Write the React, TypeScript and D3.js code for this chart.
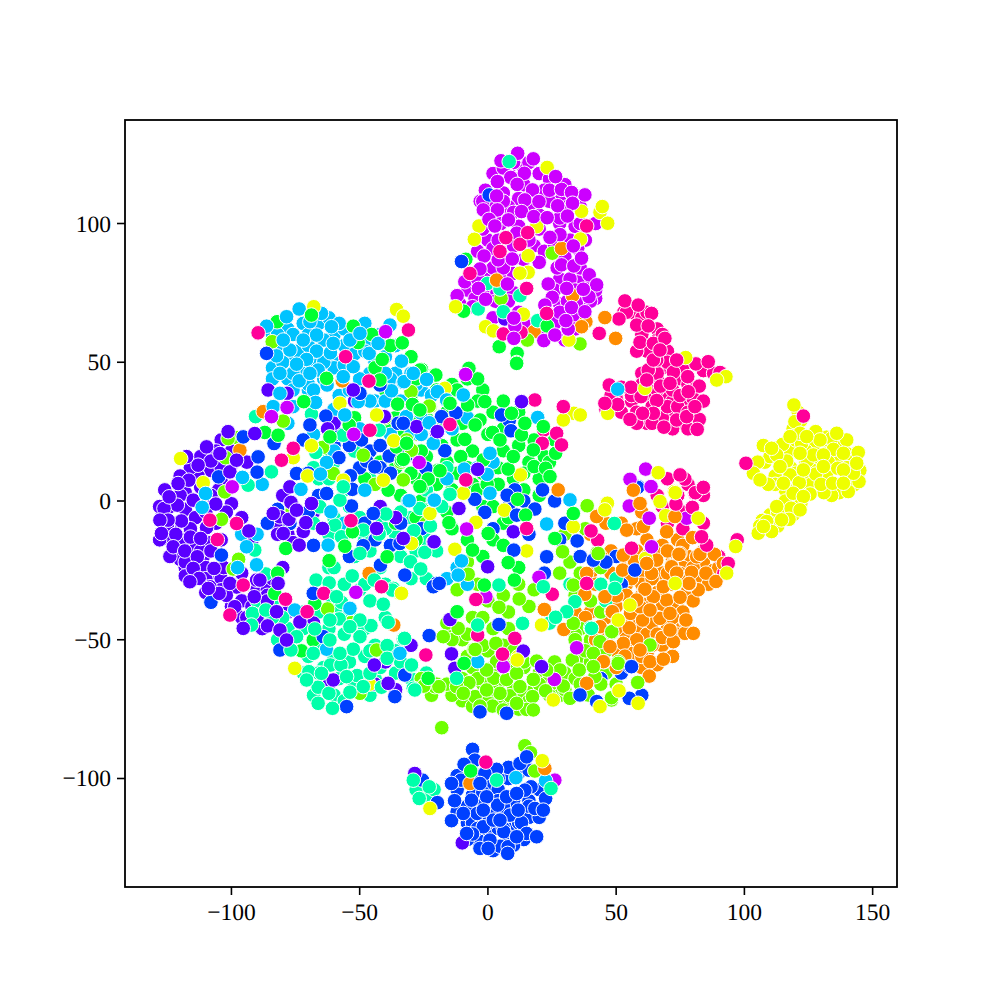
import React from "react";
import * as d3 from "d3";

type P = [number, number];

const xTicks = [-100, -50, 0, 50, 100, 150];
const yTicks = [-100, -50, 0, 50, 100];
const xDomain: P = [-141.5, 159.5];
const yDomain: P = [-139.1, 137.3];

const colors = {
  yellow: "#eeff00", orange: "#ff8c00", lime: "#6eff00", green: "#00ff33", teal: "#00ffaa",
  cyan: "#00c3ff", blue: "#0040ff", purple: "#5a00ff", magenta: "#cc00ff", pink: "#ff0099",
};

// Back layer: points largely hidden under the visible ones
const magentaBack: P[] = [[2,118],[8,119],[14,120],[20,118],[24,116],[-1,112],[6,111],[12,109],[22,112],[28,108],[-3,108],[1,106],[8,106],[20,103],[24,108],[31,106],[36,106],[5,100],[12,99],[20,98],[28,100],[34,99],[0,94],[10,92],[18,92],[22,90],[30,88],[38,94],[14,87],[20,86],[35,91],[-1,83],[5,81],[10,82],[36,82],[40,79],[0,76],[-8,76],[10,75],[35,79],[28,80],[-11,71],[-5,73],[3,72],[28,71],[36,71],[42,73],[14,62],[18,64],[26,64],[34,66],[-9,79],[31,72],[27,84],[-2,98],[-4,90],[2,91]];
const pinkBack: P[] = [[56,68],[60,66],[66,62],[53,68],[60,60],[66,58],[70,54],[62,54],[68,48],[74,44],[78,42],[70,38],[62,38],[56,36],[50,37],[52,32],[58,32],[64,34],[70,32],[76,34],[80,37],[74,28],[68,30],[62,28],[66,44],[60,46],[84,47],[88,46],[72,36],[78,26],[48,38],[46,33]];
const cyanBack: P[] = [[-84,60],[-78,62],[-72,64],[-66,64],[-60,60],[-76,50],[-82,56],[-74,54],[-70,56],[-64,58],[-60,50],[-68,49],[-78,44],[-72,48],[-64,44],[-56,56],[-52,53],[-46,58],[-42,60],[-40,52],[-36,46],[-30,46],[-26,40],[-46,46],[-50,44],[-58,38],[-44,36],[-38,44],[-32,36],[-26,30],[-76,34],[-70,40],[-60,33],[-84,48],[-22,38],[-56,62],[-48,64],[-36,56]];
const greenBack: P[] = [[-26,44],[-20,40],[-14,42],[-8,44],[-2,40],[-30,38],[-24,30],[-16,32],[-10,28],[-4,36],[2,32],[6,36],[12,32],[-28,24],[-20,26],[-12,22],[-6,18],[0,24],[6,26],[12,20],[18,22],[-32,18],[-24,16],[-16,14],[-8,12],[-2,10],[4,12],[10,8],[16,14],[22,16],[-36,12],[-28,8],[-20,6],[-14,4],[-6,6],[4,6],[14,4],[20,8],[26,22],[-34,2],[-26,0],[-2,-2],[6,-8],[-40,26],[-46,36],[-36,30],[-42,14],[-30,28],[-40,40],[-52,30],[-60,26],[-48,8],[-62,16],[-28,-6],[-14,-10]];
const tealBack: P[] = [[-60,-6],[-56,-12],[-48,-14],[-42,-6],[-36,-12],[-30,-6],[-24,-14],[-34,-20],[-28,-18],[-62,-24],[-56,-30],[-50,-32],[-46,-36],[-40,-42],[-62,-34],[-58,-38],[-66,-40],[-54,-40],[-48,-46],[-56,-48],[-62,-46],[-66,-52],[-60,-56],[-54,-58],[-48,-56],[-70,-56],[-72,-62],[-64,-60],[-58,-64],[-52,-66],[-44,-64],[-66,-62],[-60,-70],[-68,-70],[-56,-72],[-46,-70],[-42,-60],[-36,-62],[-36,-54],[-90,-36],[-84,-36],[-88,-44],[-78,-46],[-82,-50],[-30,-64],[-56,4],[-66,8],[-60,14],[-52,18],[-46,8]];
const purpleBack: P[] = [[-108,11],[-113,9],[-118,3],[-124,-2],[-122,-8],[-126,-9],[-127,-5],[-118,-3],[-114,-6],[-112,5],[-104,7],[-100,13],[-116,-10],[-118,-14],[-124,-14],[-120,-21],[-114,-17],[-108,-15],[-114,-26],[-108,-26],[-118,-24],[-104,-28],[-110,-33],[-104,-32],[-98,-31],[-96,-36],[-90,-32],[-86,-32],[-92,-38],[-100,-38],[-76,-2],[-82,-9],[-78,-12],[-72,-11],[-76,-15],[-68,-4],[-84,-28],[-80,-24],[-104,22],[-100,18],[-94,14],[-96,-42],[-88,-46],[-110,16],[-104,12]];
const limeBack: P[] = [[-10,-50],[-4,-56],[0,-54],[6,-56],[12,-56],[-12,-60],[-6,-60],[2,-60],[8,-60],[14,-60],[20,-62],[-10,-72],[-8,-66],[-2,-66],[4,-66],[10,-68],[14,-70],[18,-68],[24,-64],[-6,-74],[0,-72],[6,-72],[12,-75],[26,-66],[30,-62],[34,-64],[36,-56],[28,-70],[40,-58],[44,-54],[-14,-46],[-20,-66],[-24,-62]];
const orangeBack: P[] = [[62,-14],[68,-16],[74,-14],[58,-18],[66,-19],[72,-21],[78,-20],[84,-22],[60,-26],[68,-26],[76,-24],[82,-28],[54,-30],[60,-30],[66,-33],[72,-30],[78,-32],[50,-38],[56,-38],[62,-36],[68,-38],[74,-38],[80,-36],[46,-42],[52,-44],[58,-46],[64,-46],[70,-46],[76,-44],[56,-50],[62,-48],[68,-52],[74,-48],[50,-54],[56,-55],[62,-55],[66,-59],[44,-54],[40,-40],[60,-60],[88,-25],[54,-24],[48,-26],[58,-42],[66,-42]];
const blueBack: P[] = [[-6,-98],[0,-102],[4,-104],[8,-100],[12,-98],[16,-97],[-12,-104],[-6,-106],[-2,-108],[4,-108],[10,-108],[16,-108],[20,-104],[-8,-116],[-2,-114],[2,-112],[6,-110],[12,-112],[16,-114],[-12,-112],[-6,-116],[0,-120],[4,-118],[10,-118],[14,-122],[-4,-122],[2,-126],[8,-121],[-8,-122]];
const yellowBack: P[] = [[108,14],[112,9],[112,19],[118,18],[116,4],[120,0],[124,14],[127,20],[124,4],[128,13],[132,9],[133,19],[136,15],[140,17],[141,8],[143,6],[137,3],[134,2],[132,23],[110,-5],[113,-9],[117,-2],[107,-7],[119,26],[122,29],[145,11],[118,12],[126,9]];

// Middle layer: more of the crowd, partly covered
const magentaMid: P[] = [[-2,108],[6,120],[10,122],[16,122],[14,114],[24,112],[30,114],[6,108],[10,104],[16,106],[28,102],[36,100],[42,100],[4,94],[16,94],[26,92],[32,94],[-4,80],[2,84],[6,84],[32,80],[36,84],[34,76],[42,76],[26,76],[28,68],[34,62],[40,72],[-2,76],[-6,70],[8,72],[12,68],[14,64],[22,62],[-12,74],[30,58],[2,66]];
const pinkMid: P[] = [[54,68],[62,68],[68,60],[58,54],[66,46],[70,50],[76,48],[60,42],[56,38],[52,41],[70,34],[74,34],[58,28],[64,28],[72,26],[78,32],[66,40],[72,40],[84,36],[74,2],[78,6],[84,2],[76,-4],[70,-8],[76,-10],[84,-8],[90,-20],[92,-26],[70,8],[66,2],[68,-2]];
const cyanMid: P[] = [[-82,60],[-76,60],[-70,60],[-62,66],[-58,64],[-80,50],[-76,46],[-70,42],[-60,48],[-64,50],[-48,54],[-44,50],[-40,46],[-54,40],[-46,36],[-40,36],[-34,36],[-28,42],[-78,28],[-68,24],[-60,18],[-50,26],[-38,24],[-30,24],[-26,24],[-14,26],[-8,30],[-16,8],[-4,12],[2,14],[-12,-24],[-8,-30],[-16,-28],[-56,-8],[-90,-12],[-96,-12],[-88,6],[-84,44],[-76,40],[-68,40]];
const greenMid: P[] = [[-34,24],[-26,18],[-18,20],[-12,10],[-4,4],[2,-2],[8,-6],[14,10],[20,2],[24,14],[-30,10],[-22,-2],[-16,-4],[-36,-8],[-28,-14],[-8,-14],[-2,-20],[2,-14],[6,-16],[12,-24],[-12,40],[-4,44],[-38,56],[-30,52],[-28,44],[-44,48]];
const tealMid: P[] = [[-68,12],[-62,8],[-54,-2],[-50,-6],[-40,-10],[-34,-4],[-46,-18],[-52,-20],[-42,-24],[-30,-28],[-24,-28],[-20,-18],[-18,-2],[-24,4],[-16,12],[-40,-30],[-48,-30],[-62,-12],[-68,-8],[-60,-24],[-66,-34],[-72,-40],[-80,-42],[-84,-42],[-72,-46],[-44,-52],[-46,-54],[-34,-58],[-24,-62],[44,-30],[50,-28],[46,-36],[32,-30],[24,-44],[-26,-102],[-24,-106],[-28,-104],[-21,-104]];
const purpleMid: P[] = [[-110,-4],[-105,4],[-116,-13],[-125,-9],[-120,2],[-111,-20],[-103,-24],[-118,-22],[-110,-24],[-112,-18],[-106,-8],[-100,-1],[-92,-14],[-96,-6],[-96,-26],[-86,-34],[-70,-4],[-80,2],[-82,-12],[-86,-36],[-78,-40],[-68,-44],[-62,-66],[-44,-66],[-36,-68],[-30,-52],[-42,-2],[-36,-6],[-40,-58],[-60,28],[-52,36],[-116,12],[-112,16],[-106,18],[-120,9],[-126,4],[-128,-2],[-128,-14],[-124,-20],[-118,-27],[-110,-28],[-102,-34],[-94,-42],[-90,-42],[-108,2],[-102,-4],[-108,-18],[-104,-14]];
const limeMid: P[] = [[-40,30],[-34,14],[-28,24],[-44,6],[-24,-8],[32,-22],[36,-26],[28,-26],[44,-24],[30,-12],[38,-10],[34,-34],[40,-36],[44,-40],[36,-46],[40,-50],[34,-48],[46,-62],[50,-66],[-8,-22],[-12,-32],[-4,-30],[0,-36],[6,-34],[12,-30],[-6,-42],[-2,-42],[2,-46],[8,-46],[-8,-48],[-16,-44],[8,-40],[16,-38],[18,-32],[-8,-56],[-14,-50],[-2,-52],[6,-52],[10,-54],[14,-58],[20,-66],[24,-70],[30,-68],[36,-66],[44,-66],[-4,-64],[2,-68],[8,-74],[16,-72],[-14,-70],[-10,-64],[-16,-66],[26,-58],[38,-54],[34,-50],[46,-54],[-26,-64],[-22,-70]];
const orangeMid: P[] = [[46,-8],[40,-12],[48,-18],[44,-20],[40,-26],[36,-30],[34,-40],[38,-42],[42,-30],[52,-8],[60,-4],[58,-10],[62,-20],[56,-28],[64,-28],[70,-26],[70,-18],[76,-16],[80,-24],[84,-18],[90,-24],[86,-30],[82,-32],[76,-40],[72,-42],[64,-44],[54,-48],[50,-46],[58,-50],[60,-34],[54,-34],[66,-48],[72,-56],[64,-52],[60,-56],[50,-60],[42,-50],[46,-48]];
const blueMid: P[] = [[-60,20],[-54,20],[-46,18],[-42,20],[-42,12],[-50,12],[-38,10],[-32,16],[-48,-8],[-44,-14],[-38,-16],[-30,-14],[-26,-10],[-34,-8],[-54,-20],[-58,24],[2,-10],[8,-2],[14,0],[16,-12],[26,0],[30,-8],[36,-20],[28,-14],[22,-26],[50,-20],[46,-22],[52,-30],[-66,2],[-70,10],[-70,-4],[-68,-16],[44,-64],[52,-62],[-82,-3],[-86,-8],[60,-70],[0,-116],[-2,-105],[-12,-99],[-8,-100],[6,-118],[-4,-118],[12,-116],[16,-110],[10,-124],[-8,-110],[-13,-108],[4,-100],[8,-96],[20,-114]];
const yellowMid: P[] = [[110,16],[114,14],[120,22],[124,18],[128,16],[132,17],[136,20],[140,12],[120,10],[112,6],[116,0],[120,4],[126,6],[131,3],[113,-4],[110,-8],[106,-9],[119,-5],[122,-1]];

// Front layer: the circles that stay visible
const magenta: P[] = [[5.1,122.6],[11.6,125.3],[17.7,123.3],[14.2,118.1],[8.9,116.6],[3.7,115.1],[11.4,114.1],[17.4,112.1],[3.4,109.9],[14.4,108.5],[19.9,107.9],[28.7,112.3],[26.4,116.9],[37.8,110.3],[32.6,111.2],[33,107.3],[27.2,106.4],[-1.8,104.9],[3.7,104.9],[13.1,104.3],[17.9,102.5],[23.1,102.1],[31,102.7],[8,101.3],[0.4,101.5],[2.7,99.1],[11.2,96.5],[28.1,96],[24.2,95],[33.3,91.9],[-1.5,88.3],[4,86.9],[9.5,87.2],[-3.1,83.6],[28.7,85.1],[33.5,84.7],[36.5,87.5],[39.5,81.5],[42.4,77.9],[23.5,78.2],[30.7,76.6],[25.1,73.4],[39.4,73.6],[37.2,76.3],[22.2,70.6],[32.6,69.7],[37.8,68.2],[-3.7,76.6],[-0.9,72.7],[7.6,78.2],[10.5,63.1],[21.8,57.8],[31.3,62],[30.4,65],[26.1,59.8],[10.1,65.9],[10.1,58.6],[-78.3,33.7],[-39.9,61],[-99.7,5.1],[-52.3,24],[-26.8,13.9],[-84.4,30.4],[-51.5,-32.9],[-8.7,45.6],[-8.3,-10.1],[19.9,-27.5],[-0.8,-34.5],[34.6,-52.9],[61.5,11.5],[55.4,7.8],[63.6,5.2],[55.1,-1.8],[77.5,-6.2],[63.8,-16.5],[62.9,-6.2],[25.9,-64.3],[6,-59.7],[26.1,-100.6]];
const pink: P[] = [[53.4,72.1],[58.6,70.6],[63.8,67.6],[51.1,65.6],[58,63.4],[62.5,63.1],[59.3,57.2],[64.5,56.8],[69,58.6],[65.8,50.8],[62.5,47.2],[72.3,46.4],[77.9,44.8],[81.1,49.4],[85.9,50.2],[90.5,46.3],[67.3,41.4],[74.9,38],[65.8,36.2],[59.7,37.6],[55.8,41],[50.6,34.8],[47.3,41.8],[45.6,35.2],[64.5,31.6],[73.6,29.2],[82.4,29.4],[68.6,26.6],[81.6,25.8],[60.3,31.6],[55.4,29.4],[77.5,30.4],[82.4,41.4],[71,42.4],[78.1,39.4],[80.7,34],[64.5,50.8],[67.1,54.4],[73.6,50.8],[61.9,43.6],[12.5,92.5],[38.5,99.1],[7,94.9],[15.5,96.7],[-7,82],[12.9,60.8],[6,60.2],[15.1,76.6],[4.7,89.9],[43.4,60.4],[22.9,67.6],[-31,61.6],[-46.4,43.2],[-80.5,14.7],[-75.9,19],[-105.5,-13.9],[-108.4,-6.9],[-53.4,-7.1],[-55.5,52],[-46,25.5],[-89.6,60.6],[-98,-8.1],[-78.9,-35.4],[-70.5,-39.9],[-24.2,-55.5],[-64,-33.3],[-100.6,-41.1],[-41.5,-30.9],[-95.4,-30.3],[18.3,36.4],[29.4,34],[21.8,25.6],[26.8,24.4],[21.2,20.8],[-14.8,27.6],[-8.6,7.6],[15.1,-9.9],[42.8,-14.1],[25.1,-33.6],[-4.7,-35.5],[-4,-48.3],[40.2,-10.8],[76.8,7.9],[80.7,2.8],[73.3,-1.1],[38.5,-29.7],[28.7,20.2],[10.5,-49.5],[5.7,-55.2],[85.3,-15.9],[97.2,-14],[100.6,13.6],[123,30.6],[56,-17],[83.3,-12.9],[93.7,-22.5],[74.9,9.4],[79.7,-2.3],[80.9,3],[84,4.9],[-0.8,-94.1]];
const yellow: P[] = [[36.5,104.4],[43.7,104],[46.7,100.1],[44.6,106.1],[36.1,94.4],[19,98.9],[15.7,88.4],[15.7,82.4],[12.5,82.1],[23.1,120.2],[-3.5,99.1],[-5.3,94.3],[-0.9,62.8],[2.1,61.3],[31.6,58],[13.8,67.3],[-12.6,70],[77.1,51.7],[92.8,44.8],[46.7,31.6],[89.2,43.6],[61.2,40.6],[-119.8,15.3],[-70.3,9],[-75.9,15.6],[-68.8,19.9],[-35.6,69],[-33,66.6],[-111,6.6],[-36.7,21.7],[-29.8,-15.3],[-57.7,35.2],[-67.9,70],[-43.4,31],[-56.4,7.5],[-22.6,-4.5],[-40.8,7.5],[-75.3,-60.3],[-46.2,-66],[-34.3,-33.3],[-16.8,40.6],[-12.9,-17.4],[6.4,-3.3],[15.1,-18],[12.7,9.4],[-9.6,2.8],[33.3,-9.3],[33.5,31.6],[29.4,29.2],[36,31],[66.2,10.2],[72.7,3.4],[67.1,-0.2],[69.3,-5.3],[61.5,-20.7],[20.9,-44.7],[46.3,-0.9],[11.8,-56.1],[-4.7,-7.7],[-33.7,-33.3],[107.4,20],[114.9,20.4],[122.3,20.8],[127.8,25],[134,22.6],[139.9,22],[144.4,17.5],[134.7,18.6],[105.2,14],[116.5,14.4],[124.5,14.5],[132.7,14],[136.4,11.8],[103.5,10],[109.3,6],[117.8,9.4],[121.4,6.6],[127.8,9.7],[129.9,6],[134.4,6.4],[144.7,7],[125.6,2.5],[118.2,-2.6],[112.6,-2],[108.7,-7.4],[117.4,-6.6],[110.6,-11],[105.4,-11.6],[121,32],[119.3,34.6],[119.7,28.6],[121.7,24.4],[112.6,16.6],[142.5,10],[140.5,3.4],[126.9,16.6],[117.8,23.2],[129.5,22],[110.6,19],[138.6,17.2],[121.7,17.2],[130.8,16.6],[119,2.8],[123,1.6],[138.6,11.2],[138.6,6.4],[114.5,-6.8],[121.7,-3.2],[107.4,-9.2],[115.2,6.4],[106.1,7.6],[113.9,12.4],[123,11.2],[130.8,12.4],[143.8,13.6],[124.3,23.2],[136,24.4],[46.6,-0.8],[45.6,-3.2],[96.6,-16.4],[93.1,-26],[66.4,10.2],[73,3],[82,-6.2],[50.8,-42.9],[51.1,-68.1],[55.4,-37.5],[73,-29.7],[11.4,-57.3],[51.1,-68.4],[25.5,-71.7],[58.6,-72.9],[43.7,-74.1],[21.2,-93.6],[-22.6,-110.8]];
const orange: P[] = [[33,74],[18,61],[28.7,91],[38.2,64.6],[45.6,66.1],[49.8,58.6],[36.5,62.8],[3.4,79.6],[-96.7,18.3],[-87.6,32.2],[-56.8,43.3],[-46.3,-26.1],[-36.7,-44.7],[27.4,4],[42.4,-5.3],[54.1,-10.5],[69.7,-11.1],[79.8,-13.2],[56.7,-21.6],[52.5,-24.9],[63.8,-26.1],[71.6,-23.3],[37.8,-33.6],[50.2,-34.2],[61.2,-32.1],[69.7,-35.7],[74.9,-34.7],[78.5,-29.9],[48.2,-39.9],[55.6,-40.5],[60.3,-42.9],[77.1,-43.3],[22,-39.1],[29.6,-46.3],[55.1,-45.7],[68.1,-49.1],[52.8,-51.3],[76.8,-47.7],[38.5,-26.1],[64.5,-34.5],[67.1,-42.3],[74.9,-18.9],[81.4,-20.1],[74.9,-26.1],[65.8,-21.3],[59.3,-38.1],[74.5,-19.2],[82.7,-19.2],[88.3,-19.2],[91.8,-22.5],[57.1,-21.6],[71.6,-23.7],[79.4,-25.7],[85,-26],[88.9,-29],[78.4,-29.7],[61.2,-31.8],[48.5,-39.9],[77.2,-42.9],[68,-49.2],[53.4,-55.9],[63.2,-57.9],[68.4,-57],[45.3,-57.9],[62.9,-63.1],[72.3,-50.7],[80.1,-47.7],[71,-40.5],[63.2,-39.3],[58,-35.7],[68.4,-30.9],[73.6,-26],[61.9,-22.5],[42.4,-5.6],[52.8,-19.5],[60.6,-9.2],[59.3,-0.9],[56.7,3.9],[72.9,-5.6],[45.6,-34.5],[71,-46.5],[59.3,-53.7],[38.5,-65.7],[-7,-101.8],[22.2,-96.4],[47.6,-52.5],[43.7,-45.3],[45,-57.9]];
const lime: P[] = [[25.1,89.3],[5.1,73],[35.9,56.6],[15.4,58],[-84.1,57.4],[-22.6,34],[-79.8,28.8],[-97.6,22.8],[-101.3,22.5],[-102.3,15.6],[-64.5,19.3],[-30,39.4],[-102.6,3.3],[-103.9,-6.6],[-76.3,-3.3],[-33,7.5],[-99.3,-24.5],[-97.2,-21],[-60.3,9.9],[-31.7,22],[-48.6,16.5],[-29.8,18.3],[-62.5,-38.9],[-53.2,-43.8],[-24.9,-66.5],[-49.9,-69.3],[-43.4,-53.7],[-20.7,-66.9],[-22.9,34.2],[-33,7.6],[29.1,-18.3],[42.6,-18.6],[38.7,-1.7],[-7.7,-26.4],[4.3,-38.3],[12.2,-35.3],[33.3,-30.3],[-11.6,-45.9],[-17.4,-48.9],[3.1,-51.3],[-5.4,-53.5],[43.7,-50.7],[63.2,-51.9],[48.2,-47.5],[33.3,-44.1],[3.4,-57.9],[-7.4,-65.5],[2.3,-63.9],[7.3,-64.3],[17.7,-64.3],[19,-57.7],[8.6,-70.2],[17.4,-70.5],[-5,-70.5],[1.8,-73.9],[-3.1,-73.9],[15.1,-75.1],[22.5,-68.4],[28.1,-60.9],[32.9,-57.3],[35.6,-60.9],[29.4,-66.7],[39.1,-69.9],[32,-71.1],[48.2,-71.7],[58.4,-65.4],[-25,-66.7],[-19.1,-66.9],[-18,-81.7],[14.4,-88.2],[16.6,-90.7],[18.3,-97.3],[41.1,-54.9],[50.8,-57.9],[-0.5,-60.9],[11.2,-62.1],[-12.2,-66.9],[-9.6,-69.3],[4.7,-69.3],[12.5,-66.9],[22.9,-60.9],[41.7,-63.3],[6,-75.3],[11.2,-72.9],[-0.5,-68.1],[17.7,-75.3],[48.3,-47.1],[50.8,-58.5],[41.1,-59.7],[48.2,-70.9],[43,-18.9],[-5,-53.5]];
const green: P[] = [[-8.6,87.1],[-9.5,68.4],[4.4,55.6],[11.4,53.2],[11.2,49.9],[23.1,63.1],[-82.2,64.6],[-52.5,63],[-50.6,57.1],[-33.4,57],[-45.3,60],[-41.2,51],[-25.9,47.4],[-20.7,45.4],[-35.2,34.9],[-29.5,34.6],[-71.8,35.8],[-87,24.7],[-54.1,27.4],[-33.7,14.7],[-38.9,3.9],[-23.3,7.8],[-25.9,5.1],[-19.4,11.1],[-52.8,-11.1],[-55.8,-16.3],[-61.9,-21.5],[-39.3,-20.1],[-78.8,-17.1],[-35.6,19.5],[-81.8,-26.1],[-61.6,23.1],[-62.9,44.2],[-68.8,67],[-81.8,23.7],[-42.1,43.6],[-68.1,-50.1],[-72.7,-54],[-67.5,-36.9],[-82,-26],[-83.1,-33.3],[11.2,49.6],[-26.5,47.2],[-20.3,45.4],[-7.4,47.8],[-29.4,34.8],[-1.2,35.8],[-7.9,34.6],[1.8,24.7],[-9,22.2],[13.1,23.8],[6,18.1],[-10.6,16],[-1.8,14.8],[7.9,11.5],[18,12.4],[22.5,11.8],[26.4,17.2],[-0.3,6],[11.6,0.6],[14.7,-5.1],[-18.7,10.9],[-23.3,7.9],[-33,15],[0.1,-11.7],[-15.2,-7.8],[-6,-17.7],[7.9,-22.2],[10.3,-28.5],[-1.4,-30.3],[-12.2,-40.2],[26.1,-13.5],[9.2,31.6],[-3.1,29.2],[4.7,22],[17.7,18.4],[9.9,16],[24.2,8.8],[33.3,-4.5],[-26.5,5.2],[-26.5,32.8],[-14.8,35.2],[-5,27.4],[14.4,28],[21.6,26.8],[-31.7,20.8],[-12,-39.9],[-9.3,-58.5],[-6.7,-97.3],[-23.3,-63.9]];
const teal: P[] = [[-0.2,78.4],[12.5,74],[-3.8,69.2],[19.4,65],[4.7,76.4],[6,68.2],[8.3,122.3],[-84.4,10.5],[-90.6,30.4],[-68.8,31.3],[-42.4,25.5],[-56.4,23.7],[-93.5,5.7],[-67.1,17.5],[-57.7,0.3],[-65.5,-2.1],[-59.7,-8.7],[-57.1,-12.9],[-48.6,-10.5],[-42.4,-11.9],[-39.8,-4.7],[-28.9,-10.7],[-26.5,-2.7],[-22.4,-9],[-24.6,-18.5],[-30.2,-21.9],[-26.2,-24.5],[-90.9,-17.7],[-86.6,-26.3],[-44.3,-28.5],[-52.9,-27],[-67,-28.5],[-61.9,-29.5],[-36.9,-31.5],[-49.9,-18.9],[-56.4,5.1],[-91.8,-40.5],[-86.6,-39.3],[-92.2,-44.7],[-57.1,-36.5],[-58,-42.5],[-67.5,-46.1],[-74.6,-48.9],[-76.8,-53.7],[-49.9,-48.9],[-52.5,-53.4],[-45.6,-44.9],[-38.9,-43.7],[-40.8,-37.2],[-37.3,-32.1],[-33,-49.7],[-39.3,-52.1],[-39.3,-56.7],[-29.8,-59.4],[-69.8,-61.5],[-61.4,-59.1],[-57.3,-59.1],[-51,-62.9],[-46,-62.1],[-66.2,-67.1],[-62,-69.3],[-53.8,-68.9],[-66.2,-72.9],[-60.6,-74.7],[-41.5,-67.1],[-61.6,-50.1],[-68.1,-54.9],[-57.7,-54.9],[-70.7,-64.5],[-48.6,-66.9],[-55.1,-63.3],[-64.9,-62.1],[-49.9,-42.9],[-53.8,-45.3],[-61.6,-42.9],[-59,-34.5],[-29.1,-67.5],[-14.8,2.4],[4.3,-30.3],[21.6,-30.9],[33.9,-36.3],[30.7,-39.9],[26.4,-41.9],[13.5,-44.1],[-4,-44.7],[40,-45.7],[49.3,-8.1],[-32.5,-49.5],[49.5,-31.5],[-12.2,-63.9],[-29.8,-59.1],[-28.5,-68.1],[-26.8,-107.2],[-22.9,-103],[-29.1,-100.6],[24.6,-103.6],[3.4,-100.6],[40.4,-45.9]];
const cyan: P[] = [[-73.6,69.2],[-69.4,64.6],[-66.8,59.8],[-77.2,54.4],[-82.4,52.3],[-66.8,54],[-61.4,53.4],[-70.7,51],[-74.6,49.3],[-66.2,47.2],[-73.6,43.3],[-62.7,41.8],[-56,49],[-46.3,53.2],[-33.7,50.4],[-50.6,35.8],[-67.2,35.5],[-33,42.7],[-23.9,43.8],[-37.6,39.7],[-86.3,63],[-78.5,66.4],[-64.9,67.6],[-61,62.8],[-53.8,58],[-49.9,60.4],[-42.8,56.8],[-38.2,63.4],[-79.8,58],[-72,58],[-60.3,56.8],[-52.5,48.4],[-81.1,46],[-69.4,46],[-56.4,44.8],[-81.1,38.8],[-83.7,34],[-55.8,31],[-31.8,30.4],[-22.6,28],[-21.3,20.7],[-62.9,13.9],[-65.3,9.7],[-72.9,4.2],[-48,3.9],[-31.1,0.1],[-21.3,0.3],[-110.1,2.7],[-111.4,-2.3],[-95.7,8.5],[-62.3,-15.9],[-90.2,-23.2],[-61.2,-3.9],[-94.1,-16.5],[-97.6,-24],[-19.7,39.4],[-62.9,-53.4],[-90.2,-23],[-75.3,-39.3],[-53.8,-38.7],[-34.3,-54.9],[-23.9,43.8],[-32.7,43],[-9.6,38.2],[-20.9,0.3],[-30.7,0.1],[-21.3,20.8],[0.8,17.2],[-9.2,11.5],[-0.3,9.6],[19.4,30.1],[32,0.4],[22.9,-8.3],[-10.3,-21.6],[-11.6,-26.7],[0.8,2.8],[-22.9,28.2],[-16.1,36.4],[-29.1,46],[50.6,40.3],[-4,-57.9],[10.9,-99.7],[22.5,-100.8]];
const blue: P[] = [[0.5,110.3],[-10.3,86.3],[-83.4,20.7],[-90,10.4],[-89.6,15.9],[-105,8.7],[-35,28],[-62.9,2.7],[-58.1,15.6],[-47.3,14.4],[-53.6,9.1],[-52.9,4.2],[-53.2,-1.8],[-38.5,16.2],[-48.6,-16.1],[-32.4,-26.7],[-41.9,-23.1],[-74.6,9.9],[-69.4,27.4],[-63.2,30.6],[-44.7,-4.5],[-72,22],[-86.3,53.2],[-49.9,38.8],[-42.1,41.8],[-20,-29.7],[-34.3,-15.3],[-44.1,12.3],[-49.3,22],[-77.2,-8.1],[-95.4,23.1],[-103.9,-19.5],[-108,-36.5],[-55.1,-74.1],[-36.3,-70.5],[-32.4,-62.7],[-22.9,-48.5],[-81.1,-53.7],[-64.2,-48.9],[-68.1,-33.3],[-21.3,-30.9],[-12.5,31.8],[-16.8,18.1],[-24.2,11.8],[-5.1,0.6],[-1.2,-4.1],[8.3,29],[5.3,31],[9,25.3],[10.5,4],[7.5,2.1],[21.3,4],[11.2,-5.1],[18.3,-2.9],[34.8,-14.4],[22.9,-20.1],[10.1,-17.7],[-19,-29.7],[4.3,-44.5],[-33,28],[-18.1,30.4],[57.3,-24.9],[58.6,5.2],[58.4,4.9],[55.1,-71.1],[55.4,-59.7],[41.1,-21.3],[-6,-89.5],[-5.1,-93.4],[-9.3,-94.9],[3.4,-96.7],[-10.5,-100.6],[-14.2,-101.8],[-25.5,-100.6],[-19.7,-108.7],[16.8,-103],[22.5,-107.2],[18.3,-110.8],[3.8,-109.6],[-4.2,-112.6],[8.6,-113.2],[13.1,-115.9],[-14.2,-115.2],[-9.6,-112.6],[-1.8,-117.4],[6.2,-119.2],[-6,-120],[15.1,-119.8],[-3.1,-125.2],[4.7,-124.4],[7.9,-124.6],[7.7,-127],[11.8,-111.4],[12.5,-94.6],[-1.2,-98.2],[-0.5,-106.6],[-6.4,-107.8],[7.3,-106.6],[14.4,-104.2],[2.1,-115],[-1.8,-111.4],[19,-121],[11.2,-121],[0.8,-122.2],[15.1,-92.2],[21.6,-111.4],[-3.1,-101.8],[4.7,-115],[11.2,-105.4],[-8.3,-119.8],[0.1,-125.2],[-3.1,-76],[7.3,-76.5],[42.4,-72.3],[35.9,-69.9],[56,-59.7]];
const purple: P[] = [[6.6,65.6],[-108,14.4],[-113,12.9],[-116.6,7.5],[-120.8,6.3],[-121.1,-1.5],[-126.3,-2.7],[-124.3,1.5],[-119.5,-7.2],[-124.7,-6.9],[-121.7,-12],[-109.7,-9.6],[-112,-13.5],[-122.7,-16.5],[-118.2,-18],[-113.3,-20.1],[-106.8,-24.3],[-114.9,-24.3],[-112.6,-27.9],[-106.1,-1.1],[-100.6,10.5],[-114.9,0.3],[-117.5,16],[-127.9,-6.9],[-127.3,-11.7],[-109.7,19.5],[-104.5,17.1],[-98,14.7],[-85.7,40],[-78.3,38.8],[-62.5,26],[-52.5,40],[-40.4,30.4],[-77.2,5.1],[-76.8,-0.5],[-68.8,-0.9],[-81.1,-5.7],[-77.6,-6.6],[-71,-7.8],[-64.5,-9.9],[-73.6,-15.9],[-93.2,-10.8],[-21.3,-14.7],[-33,-13.5],[-43.4,-9.9],[-81.8,-29.7],[-90.2,-28.5],[-83.7,-4.5],[-74.6,-3.3],[-79.8,-11.7],[-101.3,25],[-90.9,24.3],[-20,24.3],[-27.8,26.8],[-100.6,-29.7],[-108.4,-30.9],[-116.2,-29.1],[-104.8,-33.3],[-98.7,-38.1],[-91.1,-34.5],[-85.9,-45],[-81.1,-46.5],[-73.3,-43.6],[-78.5,-50.1],[-109,-31.5],[-95.4,-45.9],[-60.3,-64.5],[-44.3,-59.1],[-38.9,-65.7],[-88.9,-28.5],[-82.4,-39.9],[-11.3,-2.7],[-21,-14.7],[-4,11.4],[13.1,35.8],[9.9,-11.1],[-0.1,-23.7],[-14.2,-55.1],[-14.8,-42.7],[-19.7,25],[-10,-123.2],[-28.5,-98.2],[20.9,-59.7],[13.8,-54.1],[-12.9,-60.3]];

type Layer = [keyof typeof colors, P[]][];
const backLayer: Layer = [
  ["magenta", magentaBack], ["pink", pinkBack], ["cyan", cyanBack], ["green", greenBack], ["teal", tealBack],
  ["purple", purpleBack], ["lime", limeBack], ["orange", orangeBack], ["blue", blueBack], ["yellow", yellowBack],
];
const midLayer: Layer = [
  ["magenta", magentaMid], ["pink", pinkMid], ["cyan", cyanMid], ["green", greenMid], ["teal", tealMid],
  ["purple", purpleMid], ["lime", limeMid], ["orange", orangeMid], ["blue", blueMid], ["yellow", yellowMid],
];
const frontLayer: Layer = [
  ["orange", orange], ["lime", lime], ["teal", teal], ["purple", purple], ["cyan", cyan], ["green", green],
  ["magenta", magenta], ["blue", blue], ["pink", pink], ["yellow", yellow],
];

const bounds = { left: 125, right: 897, top: 120, bottom: 887 };

function flatten(layer: Layer) {
  const out: { c: string; p: P }[] = [];
  const maxLen = d3.max(layer, (l) => l[1].length) ?? 0;
  for (let i = 0; i < maxLen; i++) {
    layer.forEach(([name, pts]) => {
      if (i < pts.length) out.push({ c: colors[name], p: pts[i] });
    });
  }
  return out;
}

export default function App() {
  const x = d3.scaleLinear().domain(xDomain).range([bounds.left, bounds.right]);
  const y = d3.scaleLinear().domain(yDomain).range([bounds.bottom, bounds.top]);
  const font = "'Liberation Serif', serif";
  const label = (v: number) => (v < 0 ? `\u2212${Math.abs(v)}` : `${v}`);
  const marks = [...flatten(backLayer), ...flatten(midLayer), ...flatten(frontLayer)];
  return (
    <svg width={997} height={997} style={{ position: "absolute", left: 0, top: 0, display: "block" }}>
      <rect width={997} height={997} fill="#fff" />
      <g stroke="#fff" strokeWidth={1}>
        {marks.map((m, i) => (
          <circle key={`b${i}`} cx={x(m.p[0])} cy={y(m.p[1])} r={7.3} fill={m.c} />
        ))}
      </g>
      <rect x={bounds.left} y={bounds.top} width={bounds.right - bounds.left} height={bounds.bottom - bounds.top} fill="none" stroke="#000" strokeWidth={1.8} />
      {xTicks.map((t) => (
        <g key={`x${t}`}>
          <line x1={x(t)} x2={x(t)} y1={bounds.bottom} y2={bounds.bottom + 8} stroke="#000" strokeWidth={1.6} />
          <text x={x(t)} y={bounds.bottom + 33} textAnchor="middle" fontFamily={font} fontSize={23.5} fill="#000" textRendering="geometricPrecision">{label(t)}</text>
        </g>
      ))}
      {yTicks.map((t) => (
        <g key={`y${t}`}>
          <line x1={bounds.left - 8} x2={bounds.left} y1={y(t)} y2={y(t)} stroke="#000" strokeWidth={1.6} />
          <text x={bounds.left - 14} y={y(t) + 8} textAnchor="end" fontFamily={font} fontSize={23.5} fill="#000" textRendering="geometricPrecision">{label(t)}</text>
        </g>
      ))}
    </svg>
  );
}
